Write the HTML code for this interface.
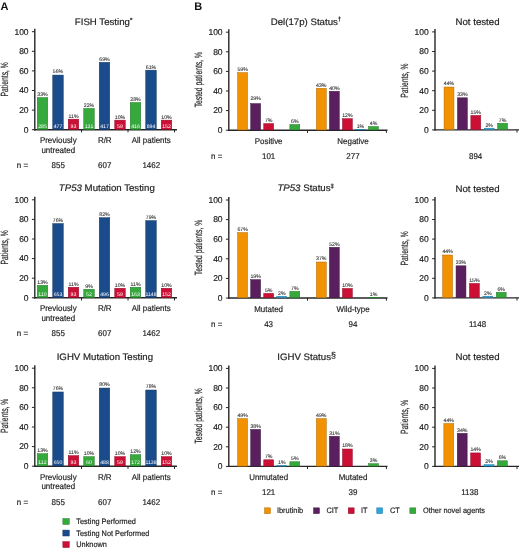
<!DOCTYPE html>
<html><head><meta charset="utf-8"><style>
html,body{margin:0;padding:0;background:#fff;width:520px;height:549px;overflow:hidden}
svg{display:block;will-change:transform}
text{font-family:"Liberation Sans", sans-serif;text-rendering:geometricPrecision}
</style></head><body>
<svg width="520" height="549" viewBox="0 0 520 549">
<rect x="0" y="0" width="520" height="549" fill="#fff"/>
<text x="0.4" y="10" font-size="11" font-weight="bold" fill="#111">A</text>
<text x="194.3" y="10" font-size="11" font-weight="bold" fill="#111">B</text>
<text transform="translate(103.60,24.80) scale(1.03,1)" font-size="9.4" text-anchor="middle" fill="#1e1e1e" stroke="#1e1e1e" stroke-width="0.18" >FISH Testing<tspan font-size="6" dy="-3.3" font-weight="bold">*</tspan></text>
<line x1="34.80" y1="28.70" x2="34.80" y2="130.40" stroke="#262626" stroke-width="1.4"/>
<line x1="34.10" y1="129.70" x2="177.00" y2="129.70" stroke="#262626" stroke-width="1.4"/>
<line x1="31.90" y1="129.70" x2="34.80" y2="129.70" stroke="#262626" stroke-width="1.0"/>
<text x="28.60" y="132.50" font-size="8.5" text-anchor="end" fill="#1e1e1e" stroke="#1e1e1e" stroke-width="0.18" >0</text>
<line x1="31.90" y1="110.10" x2="34.80" y2="110.10" stroke="#262626" stroke-width="1.0"/>
<text x="28.60" y="112.90" font-size="8.5" text-anchor="end" fill="#1e1e1e" stroke="#1e1e1e" stroke-width="0.18" >20</text>
<line x1="31.90" y1="90.50" x2="34.80" y2="90.50" stroke="#262626" stroke-width="1.0"/>
<text x="28.60" y="93.30" font-size="8.5" text-anchor="end" fill="#1e1e1e" stroke="#1e1e1e" stroke-width="0.18" >40</text>
<line x1="31.90" y1="70.90" x2="34.80" y2="70.90" stroke="#262626" stroke-width="1.0"/>
<text x="28.60" y="73.70" font-size="8.5" text-anchor="end" fill="#1e1e1e" stroke="#1e1e1e" stroke-width="0.18" >60</text>
<line x1="31.90" y1="51.30" x2="34.80" y2="51.30" stroke="#262626" stroke-width="1.0"/>
<text x="28.60" y="54.10" font-size="8.5" text-anchor="end" fill="#1e1e1e" stroke="#1e1e1e" stroke-width="0.18" >80</text>
<line x1="31.90" y1="31.70" x2="34.80" y2="31.70" stroke="#262626" stroke-width="1.0"/>
<text x="28.60" y="34.50" font-size="8.5" text-anchor="end" fill="#1e1e1e" stroke="#1e1e1e" stroke-width="0.18" >100</text>
<line x1="81.50" y1="129.70" x2="81.50" y2="132.40" stroke="#262626" stroke-width="1.0"/>
<line x1="128.00" y1="129.70" x2="128.00" y2="132.40" stroke="#262626" stroke-width="1.0"/>
<line x1="174.50" y1="129.70" x2="174.50" y2="132.40" stroke="#262626" stroke-width="1.0"/>
<text transform="translate(7.80,79.30) rotate(-90) scale(0.645,1)" font-size="10.5" text-anchor="middle" fill="#1e1e1e" stroke="#1e1e1e" stroke-width="0.18">Patients, %</text>
<rect x="37.25" y="97.61" width="10.50" height="31.84" fill="#35a93c" stroke="#26792b" stroke-width="0.5"/>
<text x="42.50" y="95.96" font-size="5.2" text-anchor="middle" fill="#3a3a3a" stroke="#3a3a3a" stroke-width="0.12" >33%</text>
<text x="42.50" y="127.50" font-size="5.2" text-anchor="middle" fill="#fff" >285</text>
<rect x="52.75" y="75.07" width="10.50" height="54.38" fill="#1a4b8b" stroke="#123664" stroke-width="0.5"/>
<text x="58.00" y="73.42" font-size="5.2" text-anchor="middle" fill="#3a3a3a" stroke="#3a3a3a" stroke-width="0.12" >56%</text>
<text x="58.00" y="127.50" font-size="5.2" text-anchor="middle" fill="#fff" >477</text>
<rect x="68.25" y="119.17" width="10.50" height="10.28" fill="#cc1035" stroke="#920b26" stroke-width="0.5"/>
<text x="73.50" y="117.52" font-size="5.2" text-anchor="middle" fill="#3a3a3a" stroke="#3a3a3a" stroke-width="0.12" >11%</text>
<text x="73.50" y="127.50" font-size="5.2" text-anchor="middle" fill="#fff" >93</text>
<rect x="83.75" y="108.39" width="10.50" height="21.06" fill="#35a93c" stroke="#26792b" stroke-width="0.5"/>
<text x="89.00" y="106.74" font-size="5.2" text-anchor="middle" fill="#3a3a3a" stroke="#3a3a3a" stroke-width="0.12" >22%</text>
<text x="89.00" y="127.50" font-size="5.2" text-anchor="middle" fill="#fff" >131</text>
<rect x="99.25" y="62.33" width="10.50" height="67.12" fill="#1a4b8b" stroke="#123664" stroke-width="0.5"/>
<text x="104.50" y="60.68" font-size="5.2" text-anchor="middle" fill="#3a3a3a" stroke="#3a3a3a" stroke-width="0.12" >69%</text>
<text x="104.50" y="127.50" font-size="5.2" text-anchor="middle" fill="#fff" >417</text>
<rect x="114.75" y="120.15" width="10.50" height="9.30" fill="#cc1035" stroke="#920b26" stroke-width="0.5"/>
<text x="120.00" y="118.50" font-size="5.2" text-anchor="middle" fill="#3a3a3a" stroke="#3a3a3a" stroke-width="0.12" >10%</text>
<text x="120.00" y="127.50" font-size="5.2" text-anchor="middle" fill="#fff" >59</text>
<rect x="130.25" y="102.51" width="10.50" height="26.94" fill="#35a93c" stroke="#26792b" stroke-width="0.5"/>
<text x="135.50" y="100.86" font-size="5.2" text-anchor="middle" fill="#3a3a3a" stroke="#3a3a3a" stroke-width="0.12" >28%</text>
<text x="135.50" y="127.50" font-size="5.2" text-anchor="middle" fill="#fff" >416</text>
<rect x="145.75" y="70.17" width="10.50" height="59.28" fill="#1a4b8b" stroke="#123664" stroke-width="0.5"/>
<text x="151.00" y="68.52" font-size="5.2" text-anchor="middle" fill="#3a3a3a" stroke="#3a3a3a" stroke-width="0.12" >61%</text>
<text x="151.00" y="127.50" font-size="5.2" text-anchor="middle" fill="#fff" >894</text>
<rect x="161.25" y="120.15" width="10.50" height="9.30" fill="#cc1035" stroke="#920b26" stroke-width="0.5"/>
<text x="166.50" y="118.50" font-size="5.2" text-anchor="middle" fill="#3a3a3a" stroke="#3a3a3a" stroke-width="0.12" >10%</text>
<text x="166.50" y="127.50" font-size="5.2" text-anchor="middle" fill="#fff" >152</text>
<text transform="translate(58.25,143.30) scale(0.95,1)" font-size="8.4" text-anchor="middle" fill="#1e1e1e" stroke="#1e1e1e" stroke-width="0.18" >Previously</text>
<text transform="translate(58.25,152.90) scale(0.95,1)" font-size="8.4" text-anchor="middle" fill="#1e1e1e" stroke="#1e1e1e" stroke-width="0.18" >untreated</text>
<text transform="translate(104.75,143.30) scale(0.95,1)" font-size="8.4" text-anchor="middle" fill="#1e1e1e" stroke="#1e1e1e" stroke-width="0.18" >R/R</text>
<text transform="translate(151.25,143.30) scale(0.95,1)" font-size="8.4" text-anchor="middle" fill="#1e1e1e" stroke="#1e1e1e" stroke-width="0.18" >All patients</text>
<text transform="translate(16.80,168.20) scale(0.95,1)" font-size="8.4" text-anchor="start" fill="#1e1e1e" stroke="#1e1e1e" stroke-width="0.18" >n =</text>
<text transform="translate(58.25,168.20) scale(0.95,1)" font-size="8.4" text-anchor="middle" fill="#1e1e1e" stroke="#1e1e1e" stroke-width="0.18" >855</text>
<text transform="translate(104.75,168.20) scale(0.95,1)" font-size="8.4" text-anchor="middle" fill="#1e1e1e" stroke="#1e1e1e" stroke-width="0.18" >607</text>
<text transform="translate(151.25,168.20) scale(0.95,1)" font-size="8.4" text-anchor="middle" fill="#1e1e1e" stroke="#1e1e1e" stroke-width="0.18" >1462</text>
<text transform="translate(106.80,191.10) scale(1.03,1)" font-size="9.4" text-anchor="middle" fill="#1e1e1e" stroke="#1e1e1e" stroke-width="0.18" ><tspan font-style="italic">TP53</tspan> Mutation Testing</text>
<line x1="34.80" y1="196.80" x2="34.80" y2="298.50" stroke="#262626" stroke-width="1.4"/>
<line x1="34.10" y1="297.80" x2="177.00" y2="297.80" stroke="#262626" stroke-width="1.4"/>
<line x1="31.90" y1="297.80" x2="34.80" y2="297.80" stroke="#262626" stroke-width="1.0"/>
<text x="28.60" y="300.60" font-size="8.5" text-anchor="end" fill="#1e1e1e" stroke="#1e1e1e" stroke-width="0.18" >0</text>
<line x1="31.90" y1="278.20" x2="34.80" y2="278.20" stroke="#262626" stroke-width="1.0"/>
<text x="28.60" y="281.00" font-size="8.5" text-anchor="end" fill="#1e1e1e" stroke="#1e1e1e" stroke-width="0.18" >20</text>
<line x1="31.90" y1="258.60" x2="34.80" y2="258.60" stroke="#262626" stroke-width="1.0"/>
<text x="28.60" y="261.40" font-size="8.5" text-anchor="end" fill="#1e1e1e" stroke="#1e1e1e" stroke-width="0.18" >40</text>
<line x1="31.90" y1="239.00" x2="34.80" y2="239.00" stroke="#262626" stroke-width="1.0"/>
<text x="28.60" y="241.80" font-size="8.5" text-anchor="end" fill="#1e1e1e" stroke="#1e1e1e" stroke-width="0.18" >60</text>
<line x1="31.90" y1="219.40" x2="34.80" y2="219.40" stroke="#262626" stroke-width="1.0"/>
<text x="28.60" y="222.20" font-size="8.5" text-anchor="end" fill="#1e1e1e" stroke="#1e1e1e" stroke-width="0.18" >80</text>
<line x1="31.90" y1="199.80" x2="34.80" y2="199.80" stroke="#262626" stroke-width="1.0"/>
<text x="28.60" y="202.60" font-size="8.5" text-anchor="end" fill="#1e1e1e" stroke="#1e1e1e" stroke-width="0.18" >100</text>
<line x1="81.50" y1="297.80" x2="81.50" y2="300.50" stroke="#262626" stroke-width="1.0"/>
<line x1="128.00" y1="297.80" x2="128.00" y2="300.50" stroke="#262626" stroke-width="1.0"/>
<line x1="174.50" y1="297.80" x2="174.50" y2="300.50" stroke="#262626" stroke-width="1.0"/>
<text transform="translate(7.80,247.40) rotate(-90) scale(0.645,1)" font-size="10.5" text-anchor="middle" fill="#1e1e1e" stroke="#1e1e1e" stroke-width="0.18">Patients, %</text>
<rect x="37.25" y="285.31" width="10.50" height="12.24" fill="#35a93c" stroke="#26792b" stroke-width="0.5"/>
<text x="42.50" y="283.66" font-size="5.2" text-anchor="middle" fill="#3a3a3a" stroke="#3a3a3a" stroke-width="0.12" >13%</text>
<text x="42.50" y="295.60" font-size="5.2" text-anchor="middle" fill="#fff" >110</text>
<rect x="52.75" y="223.57" width="10.50" height="73.98" fill="#1a4b8b" stroke="#123664" stroke-width="0.5"/>
<text x="58.00" y="221.92" font-size="5.2" text-anchor="middle" fill="#3a3a3a" stroke="#3a3a3a" stroke-width="0.12" >76%</text>
<text x="58.00" y="295.60" font-size="5.2" text-anchor="middle" fill="#fff" >653</text>
<rect x="68.25" y="287.27" width="10.50" height="10.28" fill="#cc1035" stroke="#920b26" stroke-width="0.5"/>
<text x="73.50" y="285.62" font-size="5.2" text-anchor="middle" fill="#3a3a3a" stroke="#3a3a3a" stroke-width="0.12" >11%</text>
<text x="73.50" y="295.60" font-size="5.2" text-anchor="middle" fill="#fff" >93</text>
<rect x="83.75" y="289.23" width="10.50" height="8.32" fill="#35a93c" stroke="#26792b" stroke-width="0.5"/>
<text x="89.00" y="287.58" font-size="5.2" text-anchor="middle" fill="#3a3a3a" stroke="#3a3a3a" stroke-width="0.12" >9%</text>
<text x="89.00" y="295.60" font-size="5.2" text-anchor="middle" fill="#fff" >52</text>
<rect x="99.25" y="217.69" width="10.50" height="79.86" fill="#1a4b8b" stroke="#123664" stroke-width="0.5"/>
<text x="104.50" y="216.04" font-size="5.2" text-anchor="middle" fill="#3a3a3a" stroke="#3a3a3a" stroke-width="0.12" >82%</text>
<text x="104.50" y="295.60" font-size="5.2" text-anchor="middle" fill="#fff" >496</text>
<rect x="114.75" y="288.25" width="10.50" height="9.30" fill="#cc1035" stroke="#920b26" stroke-width="0.5"/>
<text x="120.00" y="286.60" font-size="5.2" text-anchor="middle" fill="#3a3a3a" stroke="#3a3a3a" stroke-width="0.12" >10%</text>
<text x="120.00" y="295.60" font-size="5.2" text-anchor="middle" fill="#fff" >59</text>
<rect x="130.25" y="287.27" width="10.50" height="10.28" fill="#35a93c" stroke="#26792b" stroke-width="0.5"/>
<text x="135.50" y="285.62" font-size="5.2" text-anchor="middle" fill="#3a3a3a" stroke="#3a3a3a" stroke-width="0.12" >11%</text>
<text x="135.50" y="295.60" font-size="5.2" text-anchor="middle" fill="#fff" >163</text>
<rect x="145.75" y="220.63" width="10.50" height="76.92" fill="#1a4b8b" stroke="#123664" stroke-width="0.5"/>
<text x="151.00" y="218.98" font-size="5.2" text-anchor="middle" fill="#3a3a3a" stroke="#3a3a3a" stroke-width="0.12" >79%</text>
<text x="151.00" y="295.60" font-size="5.2" text-anchor="middle" fill="#fff" >1148</text>
<rect x="161.25" y="288.25" width="10.50" height="9.30" fill="#cc1035" stroke="#920b26" stroke-width="0.5"/>
<text x="166.50" y="286.60" font-size="5.2" text-anchor="middle" fill="#3a3a3a" stroke="#3a3a3a" stroke-width="0.12" >10%</text>
<text x="166.50" y="295.60" font-size="5.2" text-anchor="middle" fill="#fff" >152</text>
<text transform="translate(58.25,311.40) scale(0.95,1)" font-size="8.4" text-anchor="middle" fill="#1e1e1e" stroke="#1e1e1e" stroke-width="0.18" >Previously</text>
<text transform="translate(58.25,321.00) scale(0.95,1)" font-size="8.4" text-anchor="middle" fill="#1e1e1e" stroke="#1e1e1e" stroke-width="0.18" >untreated</text>
<text transform="translate(104.75,311.40) scale(0.95,1)" font-size="8.4" text-anchor="middle" fill="#1e1e1e" stroke="#1e1e1e" stroke-width="0.18" >R/R</text>
<text transform="translate(151.25,311.40) scale(0.95,1)" font-size="8.4" text-anchor="middle" fill="#1e1e1e" stroke="#1e1e1e" stroke-width="0.18" >All patients</text>
<text transform="translate(16.80,336.30) scale(0.95,1)" font-size="8.4" text-anchor="start" fill="#1e1e1e" stroke="#1e1e1e" stroke-width="0.18" >n =</text>
<text transform="translate(58.25,336.30) scale(0.95,1)" font-size="8.4" text-anchor="middle" fill="#1e1e1e" stroke="#1e1e1e" stroke-width="0.18" >855</text>
<text transform="translate(104.75,336.30) scale(0.95,1)" font-size="8.4" text-anchor="middle" fill="#1e1e1e" stroke="#1e1e1e" stroke-width="0.18" >607</text>
<text transform="translate(151.25,336.30) scale(0.95,1)" font-size="8.4" text-anchor="middle" fill="#1e1e1e" stroke="#1e1e1e" stroke-width="0.18" >1462</text>
<text transform="translate(104.90,360.30) scale(1.03,1)" font-size="9.4" text-anchor="middle" fill="#1e1e1e" stroke="#1e1e1e" stroke-width="0.18" >IGHV Mutation Testing</text>
<line x1="34.80" y1="365.20" x2="34.80" y2="466.90" stroke="#262626" stroke-width="1.4"/>
<line x1="34.10" y1="466.20" x2="177.00" y2="466.20" stroke="#262626" stroke-width="1.4"/>
<line x1="31.90" y1="466.20" x2="34.80" y2="466.20" stroke="#262626" stroke-width="1.0"/>
<text x="28.60" y="469.00" font-size="8.5" text-anchor="end" fill="#1e1e1e" stroke="#1e1e1e" stroke-width="0.18" >0</text>
<line x1="31.90" y1="446.60" x2="34.80" y2="446.60" stroke="#262626" stroke-width="1.0"/>
<text x="28.60" y="449.40" font-size="8.5" text-anchor="end" fill="#1e1e1e" stroke="#1e1e1e" stroke-width="0.18" >20</text>
<line x1="31.90" y1="427.00" x2="34.80" y2="427.00" stroke="#262626" stroke-width="1.0"/>
<text x="28.60" y="429.80" font-size="8.5" text-anchor="end" fill="#1e1e1e" stroke="#1e1e1e" stroke-width="0.18" >40</text>
<line x1="31.90" y1="407.40" x2="34.80" y2="407.40" stroke="#262626" stroke-width="1.0"/>
<text x="28.60" y="410.20" font-size="8.5" text-anchor="end" fill="#1e1e1e" stroke="#1e1e1e" stroke-width="0.18" >60</text>
<line x1="31.90" y1="387.80" x2="34.80" y2="387.80" stroke="#262626" stroke-width="1.0"/>
<text x="28.60" y="390.60" font-size="8.5" text-anchor="end" fill="#1e1e1e" stroke="#1e1e1e" stroke-width="0.18" >80</text>
<line x1="31.90" y1="368.20" x2="34.80" y2="368.20" stroke="#262626" stroke-width="1.0"/>
<text x="28.60" y="371.00" font-size="8.5" text-anchor="end" fill="#1e1e1e" stroke="#1e1e1e" stroke-width="0.18" >100</text>
<line x1="81.50" y1="466.20" x2="81.50" y2="468.90" stroke="#262626" stroke-width="1.0"/>
<line x1="128.00" y1="466.20" x2="128.00" y2="468.90" stroke="#262626" stroke-width="1.0"/>
<line x1="174.50" y1="466.20" x2="174.50" y2="468.90" stroke="#262626" stroke-width="1.0"/>
<text transform="translate(7.80,415.80) rotate(-90) scale(0.645,1)" font-size="10.5" text-anchor="middle" fill="#1e1e1e" stroke="#1e1e1e" stroke-width="0.18">Patients, %</text>
<rect x="37.25" y="453.71" width="10.50" height="12.24" fill="#35a93c" stroke="#26792b" stroke-width="0.5"/>
<text x="42.50" y="452.06" font-size="5.2" text-anchor="middle" fill="#3a3a3a" stroke="#3a3a3a" stroke-width="0.12" >13%</text>
<text x="42.50" y="464.00" font-size="5.2" text-anchor="middle" fill="#fff" >112</text>
<rect x="52.75" y="391.97" width="10.50" height="73.98" fill="#1a4b8b" stroke="#123664" stroke-width="0.5"/>
<text x="58.00" y="390.32" font-size="5.2" text-anchor="middle" fill="#3a3a3a" stroke="#3a3a3a" stroke-width="0.12" >76%</text>
<text x="58.00" y="464.00" font-size="5.2" text-anchor="middle" fill="#fff" >650</text>
<rect x="68.25" y="455.67" width="10.50" height="10.28" fill="#cc1035" stroke="#920b26" stroke-width="0.5"/>
<text x="73.50" y="454.02" font-size="5.2" text-anchor="middle" fill="#3a3a3a" stroke="#3a3a3a" stroke-width="0.12" >11%</text>
<text x="73.50" y="464.00" font-size="5.2" text-anchor="middle" fill="#fff" >93</text>
<rect x="83.75" y="456.65" width="10.50" height="9.30" fill="#35a93c" stroke="#26792b" stroke-width="0.5"/>
<text x="89.00" y="455.00" font-size="5.2" text-anchor="middle" fill="#3a3a3a" stroke="#3a3a3a" stroke-width="0.12" >10%</text>
<text x="89.00" y="464.00" font-size="5.2" text-anchor="middle" fill="#fff" >60</text>
<rect x="99.25" y="388.05" width="10.50" height="77.90" fill="#1a4b8b" stroke="#123664" stroke-width="0.5"/>
<text x="104.50" y="386.40" font-size="5.2" text-anchor="middle" fill="#3a3a3a" stroke="#3a3a3a" stroke-width="0.12" >80%</text>
<text x="104.50" y="464.00" font-size="5.2" text-anchor="middle" fill="#fff" >488</text>
<rect x="114.75" y="456.65" width="10.50" height="9.30" fill="#cc1035" stroke="#920b26" stroke-width="0.5"/>
<text x="120.00" y="455.00" font-size="5.2" text-anchor="middle" fill="#3a3a3a" stroke="#3a3a3a" stroke-width="0.12" >10%</text>
<text x="120.00" y="464.00" font-size="5.2" text-anchor="middle" fill="#fff" >59</text>
<rect x="130.25" y="454.69" width="10.50" height="11.26" fill="#35a93c" stroke="#26792b" stroke-width="0.5"/>
<text x="135.50" y="453.04" font-size="5.2" text-anchor="middle" fill="#3a3a3a" stroke="#3a3a3a" stroke-width="0.12" >12%</text>
<text x="135.50" y="464.00" font-size="5.2" text-anchor="middle" fill="#fff" >172</text>
<rect x="145.75" y="390.01" width="10.50" height="75.94" fill="#1a4b8b" stroke="#123664" stroke-width="0.5"/>
<text x="151.00" y="388.36" font-size="5.2" text-anchor="middle" fill="#3a3a3a" stroke="#3a3a3a" stroke-width="0.12" >78%</text>
<text x="151.00" y="464.00" font-size="5.2" text-anchor="middle" fill="#fff" >1138</text>
<rect x="161.25" y="456.65" width="10.50" height="9.30" fill="#cc1035" stroke="#920b26" stroke-width="0.5"/>
<text x="166.50" y="455.00" font-size="5.2" text-anchor="middle" fill="#3a3a3a" stroke="#3a3a3a" stroke-width="0.12" >10%</text>
<text x="166.50" y="464.00" font-size="5.2" text-anchor="middle" fill="#fff" >152</text>
<text transform="translate(58.25,479.80) scale(0.95,1)" font-size="8.4" text-anchor="middle" fill="#1e1e1e" stroke="#1e1e1e" stroke-width="0.18" >Previously</text>
<text transform="translate(58.25,489.40) scale(0.95,1)" font-size="8.4" text-anchor="middle" fill="#1e1e1e" stroke="#1e1e1e" stroke-width="0.18" >untreated</text>
<text transform="translate(104.75,479.80) scale(0.95,1)" font-size="8.4" text-anchor="middle" fill="#1e1e1e" stroke="#1e1e1e" stroke-width="0.18" >R/R</text>
<text transform="translate(151.25,479.80) scale(0.95,1)" font-size="8.4" text-anchor="middle" fill="#1e1e1e" stroke="#1e1e1e" stroke-width="0.18" >All patients</text>
<text transform="translate(16.80,504.70) scale(0.95,1)" font-size="8.4" text-anchor="start" fill="#1e1e1e" stroke="#1e1e1e" stroke-width="0.18" >n =</text>
<text transform="translate(58.25,504.70) scale(0.95,1)" font-size="8.4" text-anchor="middle" fill="#1e1e1e" stroke="#1e1e1e" stroke-width="0.18" >855</text>
<text transform="translate(104.75,504.70) scale(0.95,1)" font-size="8.4" text-anchor="middle" fill="#1e1e1e" stroke="#1e1e1e" stroke-width="0.18" >607</text>
<text transform="translate(151.25,504.70) scale(0.95,1)" font-size="8.4" text-anchor="middle" fill="#1e1e1e" stroke="#1e1e1e" stroke-width="0.18" >1462</text>
<rect x="62.85" y="518.55" width="6.40" height="5.90" fill="#35a93c" stroke="#26792b" stroke-width="0.5"/>
<text transform="translate(76.30,524.10) scale(0.93,1)" font-size="7.9" text-anchor="start" fill="#1e1e1e" stroke="#1e1e1e" stroke-width="0.18" >Testing Performed</text>
<rect x="62.85" y="530.10" width="6.40" height="5.90" fill="#1a4b8b" stroke="#123664" stroke-width="0.5"/>
<text transform="translate(76.30,535.65) scale(0.93,1)" font-size="7.9" text-anchor="start" fill="#1e1e1e" stroke="#1e1e1e" stroke-width="0.18" >Testing Not Performed</text>
<rect x="62.85" y="541.65" width="6.40" height="5.90" fill="#cc1035" stroke="#920b26" stroke-width="0.5"/>
<text transform="translate(76.30,547.20) scale(0.93,1)" font-size="7.9" text-anchor="start" fill="#1e1e1e" stroke="#1e1e1e" stroke-width="0.18" >Unknown</text>
<text transform="translate(306.00,24.70) scale(1.03,1)" font-size="9.4" text-anchor="middle" fill="#1e1e1e" stroke="#1e1e1e" stroke-width="0.18" >Del(17p) Status<tspan font-size="6" dy="-3.3" font-weight="bold">†</tspan></text>
<line x1="228.80" y1="29.20" x2="228.80" y2="130.90" stroke="#262626" stroke-width="1.4"/>
<line x1="228.10" y1="130.20" x2="387.50" y2="130.20" stroke="#262626" stroke-width="1.4"/>
<line x1="225.90" y1="130.20" x2="228.80" y2="130.20" stroke="#262626" stroke-width="1.0"/>
<text x="222.60" y="133.00" font-size="8.5" text-anchor="end" fill="#1e1e1e" stroke="#1e1e1e" stroke-width="0.18" >0</text>
<line x1="225.90" y1="110.60" x2="228.80" y2="110.60" stroke="#262626" stroke-width="1.0"/>
<text x="222.60" y="113.40" font-size="8.5" text-anchor="end" fill="#1e1e1e" stroke="#1e1e1e" stroke-width="0.18" >20</text>
<line x1="225.90" y1="91.00" x2="228.80" y2="91.00" stroke="#262626" stroke-width="1.0"/>
<text x="222.60" y="93.80" font-size="8.5" text-anchor="end" fill="#1e1e1e" stroke="#1e1e1e" stroke-width="0.18" >40</text>
<line x1="225.90" y1="71.40" x2="228.80" y2="71.40" stroke="#262626" stroke-width="1.0"/>
<text x="222.60" y="74.20" font-size="8.5" text-anchor="end" fill="#1e1e1e" stroke="#1e1e1e" stroke-width="0.18" >60</text>
<line x1="225.90" y1="51.80" x2="228.80" y2="51.80" stroke="#262626" stroke-width="1.0"/>
<text x="222.60" y="54.60" font-size="8.5" text-anchor="end" fill="#1e1e1e" stroke="#1e1e1e" stroke-width="0.18" >80</text>
<line x1="225.90" y1="32.20" x2="228.80" y2="32.20" stroke="#262626" stroke-width="1.0"/>
<text x="222.60" y="35.00" font-size="8.5" text-anchor="end" fill="#1e1e1e" stroke="#1e1e1e" stroke-width="0.18" >100</text>
<line x1="307.50" y1="130.20" x2="307.50" y2="132.90" stroke="#262626" stroke-width="1.0"/>
<line x1="386.40" y1="130.20" x2="386.40" y2="132.90" stroke="#262626" stroke-width="1.0"/>
<text transform="translate(201.70,79.70) rotate(-90) scale(0.645,1)" font-size="10.5" text-anchor="middle" fill="#1e1e1e" stroke="#1e1e1e" stroke-width="0.18">Tested patients, %</text>
<rect x="237.65" y="72.63" width="9.90" height="57.32" fill="#f39200" stroke="#ae6900" stroke-width="0.5"/>
<text x="242.60" y="70.98" font-size="5.2" text-anchor="middle" fill="#3a3a3a" stroke="#3a3a3a" stroke-width="0.12" >59%</text>
<rect x="250.70" y="103.60" width="9.90" height="26.35" fill="#5a1f5e" stroke="#401643" stroke-width="0.5"/>
<text x="255.65" y="100.38" font-size="5.2" text-anchor="middle" fill="#3a3a3a" stroke="#3a3a3a" stroke-width="0.12" >29%</text>
<rect x="263.75" y="123.59" width="9.90" height="6.36" fill="#cc1035" stroke="#920b26" stroke-width="0.5"/>
<text x="268.70" y="121.94" font-size="5.2" text-anchor="middle" fill="#3a3a3a" stroke="#3a3a3a" stroke-width="0.12" >7%</text>
<rect x="289.85" y="124.57" width="9.90" height="5.38" fill="#35a93c" stroke="#26792b" stroke-width="0.5"/>
<text x="294.80" y="122.92" font-size="5.2" text-anchor="middle" fill="#3a3a3a" stroke="#3a3a3a" stroke-width="0.12" >6%</text>
<rect x="316.35" y="88.31" width="9.90" height="41.64" fill="#f39200" stroke="#ae6900" stroke-width="0.5"/>
<text x="321.30" y="86.66" font-size="5.2" text-anchor="middle" fill="#3a3a3a" stroke="#3a3a3a" stroke-width="0.12" >43%</text>
<rect x="329.40" y="91.25" width="9.90" height="38.70" fill="#5a1f5e" stroke="#401643" stroke-width="0.5"/>
<text x="334.35" y="89.60" font-size="5.2" text-anchor="middle" fill="#3a3a3a" stroke="#3a3a3a" stroke-width="0.12" >40%</text>
<rect x="342.45" y="118.69" width="9.90" height="11.26" fill="#cc1035" stroke="#920b26" stroke-width="0.5"/>
<text x="347.40" y="117.04" font-size="5.2" text-anchor="middle" fill="#3a3a3a" stroke="#3a3a3a" stroke-width="0.12" >12%</text>
<rect x="355.50" y="129.47" width="9.90" height="0.48" fill="#2fa6dc" stroke="#21779e" stroke-width="0.5"/>
<text x="360.45" y="127.82" font-size="5.2" text-anchor="middle" fill="#3a3a3a" stroke="#3a3a3a" stroke-width="0.12" >1%</text>
<rect x="368.55" y="126.53" width="9.90" height="3.42" fill="#35a93c" stroke="#26792b" stroke-width="0.5"/>
<text x="373.50" y="124.88" font-size="5.2" text-anchor="middle" fill="#3a3a3a" stroke="#3a3a3a" stroke-width="0.12" >4%</text>
<text transform="translate(268.60,144.10) scale(0.95,1)" font-size="8.4" text-anchor="middle" fill="#1e1e1e" stroke="#1e1e1e" stroke-width="0.18" >Positive</text>
<text transform="translate(268.60,158.70) scale(0.95,1)" font-size="8.4" text-anchor="middle" fill="#1e1e1e" stroke="#1e1e1e" stroke-width="0.18" >101</text>
<text transform="translate(353.00,144.10) scale(0.95,1)" font-size="8.4" text-anchor="middle" fill="#1e1e1e" stroke="#1e1e1e" stroke-width="0.18" >Negative</text>
<text transform="translate(353.00,158.70) scale(0.95,1)" font-size="8.4" text-anchor="middle" fill="#1e1e1e" stroke="#1e1e1e" stroke-width="0.18" >277</text>
<text transform="translate(211.00,158.70) scale(0.95,1)" font-size="8.4" text-anchor="start" fill="#1e1e1e" stroke="#1e1e1e" stroke-width="0.18" >n =</text>
<text transform="translate(477.50,24.90) scale(1.03,1)" font-size="9.4" text-anchor="middle" fill="#1e1e1e" stroke="#1e1e1e" stroke-width="0.18" >Not tested</text>
<line x1="435.00" y1="28.90" x2="435.00" y2="130.60" stroke="#262626" stroke-width="1.4"/>
<line x1="434.30" y1="129.90" x2="519.00" y2="129.90" stroke="#262626" stroke-width="1.4"/>
<line x1="432.10" y1="129.90" x2="435.00" y2="129.90" stroke="#262626" stroke-width="1.0"/>
<text x="428.80" y="132.70" font-size="8.5" text-anchor="end" fill="#1e1e1e" stroke="#1e1e1e" stroke-width="0.18" >0</text>
<line x1="432.10" y1="110.30" x2="435.00" y2="110.30" stroke="#262626" stroke-width="1.0"/>
<text x="428.80" y="113.10" font-size="8.5" text-anchor="end" fill="#1e1e1e" stroke="#1e1e1e" stroke-width="0.18" >20</text>
<line x1="432.10" y1="90.70" x2="435.00" y2="90.70" stroke="#262626" stroke-width="1.0"/>
<text x="428.80" y="93.50" font-size="8.5" text-anchor="end" fill="#1e1e1e" stroke="#1e1e1e" stroke-width="0.18" >40</text>
<line x1="432.10" y1="71.10" x2="435.00" y2="71.10" stroke="#262626" stroke-width="1.0"/>
<text x="428.80" y="73.90" font-size="8.5" text-anchor="end" fill="#1e1e1e" stroke="#1e1e1e" stroke-width="0.18" >60</text>
<line x1="432.10" y1="51.50" x2="435.00" y2="51.50" stroke="#262626" stroke-width="1.0"/>
<text x="428.80" y="54.30" font-size="8.5" text-anchor="end" fill="#1e1e1e" stroke="#1e1e1e" stroke-width="0.18" >80</text>
<line x1="432.10" y1="31.90" x2="435.00" y2="31.90" stroke="#262626" stroke-width="1.0"/>
<text x="428.80" y="34.70" font-size="8.5" text-anchor="end" fill="#1e1e1e" stroke="#1e1e1e" stroke-width="0.18" >100</text>
<line x1="517.00" y1="129.90" x2="517.00" y2="132.60" stroke="#262626" stroke-width="1.0"/>
<text transform="translate(407.80,80.60) rotate(-90) scale(0.645,1)" font-size="10.5" text-anchor="middle" fill="#1e1e1e" stroke="#1e1e1e" stroke-width="0.18">Patients, %</text>
<rect x="444.05" y="87.03" width="9.90" height="42.62" fill="#f39200" stroke="#ae6900" stroke-width="0.5"/>
<text x="449.00" y="85.38" font-size="5.2" text-anchor="middle" fill="#3a3a3a" stroke="#3a3a3a" stroke-width="0.12" >44%</text>
<rect x="457.45" y="97.81" width="9.90" height="31.84" fill="#5a1f5e" stroke="#401643" stroke-width="0.5"/>
<text x="462.40" y="96.16" font-size="5.2" text-anchor="middle" fill="#3a3a3a" stroke="#3a3a3a" stroke-width="0.12" >33%</text>
<rect x="470.85" y="115.45" width="9.90" height="14.20" fill="#cc1035" stroke="#920b26" stroke-width="0.5"/>
<text x="475.80" y="113.80" font-size="5.2" text-anchor="middle" fill="#3a3a3a" stroke="#3a3a3a" stroke-width="0.12" >15%</text>
<rect x="484.25" y="128.19" width="9.90" height="1.46" fill="#2fa6dc" stroke="#21779e" stroke-width="0.5"/>
<text x="489.20" y="126.54" font-size="5.2" text-anchor="middle" fill="#3a3a3a" stroke="#3a3a3a" stroke-width="0.12" >2%</text>
<rect x="497.65" y="123.29" width="9.90" height="6.36" fill="#35a93c" stroke="#26792b" stroke-width="0.5"/>
<text x="502.60" y="121.64" font-size="5.2" text-anchor="middle" fill="#3a3a3a" stroke="#3a3a3a" stroke-width="0.12" >7%</text>
<text transform="translate(475.60,158.70) scale(0.95,1)" font-size="8.4" text-anchor="middle" fill="#1e1e1e" stroke="#1e1e1e" stroke-width="0.18" >894</text>
<text transform="translate(305.70,191.40) scale(1.03,1)" font-size="9.4" text-anchor="middle" fill="#1e1e1e" stroke="#1e1e1e" stroke-width="0.18" ><tspan font-style="italic">TP53</tspan> Status<tspan font-size="6" dy="-3.3" font-weight="bold">‡</tspan></text>
<line x1="228.80" y1="197.00" x2="228.80" y2="298.70" stroke="#262626" stroke-width="1.4"/>
<line x1="228.10" y1="298.00" x2="387.50" y2="298.00" stroke="#262626" stroke-width="1.4"/>
<line x1="225.90" y1="298.00" x2="228.80" y2="298.00" stroke="#262626" stroke-width="1.0"/>
<text x="222.60" y="300.80" font-size="8.5" text-anchor="end" fill="#1e1e1e" stroke="#1e1e1e" stroke-width="0.18" >0</text>
<line x1="225.90" y1="278.40" x2="228.80" y2="278.40" stroke="#262626" stroke-width="1.0"/>
<text x="222.60" y="281.20" font-size="8.5" text-anchor="end" fill="#1e1e1e" stroke="#1e1e1e" stroke-width="0.18" >20</text>
<line x1="225.90" y1="258.80" x2="228.80" y2="258.80" stroke="#262626" stroke-width="1.0"/>
<text x="222.60" y="261.60" font-size="8.5" text-anchor="end" fill="#1e1e1e" stroke="#1e1e1e" stroke-width="0.18" >40</text>
<line x1="225.90" y1="239.20" x2="228.80" y2="239.20" stroke="#262626" stroke-width="1.0"/>
<text x="222.60" y="242.00" font-size="8.5" text-anchor="end" fill="#1e1e1e" stroke="#1e1e1e" stroke-width="0.18" >60</text>
<line x1="225.90" y1="219.60" x2="228.80" y2="219.60" stroke="#262626" stroke-width="1.0"/>
<text x="222.60" y="222.40" font-size="8.5" text-anchor="end" fill="#1e1e1e" stroke="#1e1e1e" stroke-width="0.18" >80</text>
<line x1="225.90" y1="200.00" x2="228.80" y2="200.00" stroke="#262626" stroke-width="1.0"/>
<text x="222.60" y="202.80" font-size="8.5" text-anchor="end" fill="#1e1e1e" stroke="#1e1e1e" stroke-width="0.18" >100</text>
<line x1="307.50" y1="298.00" x2="307.50" y2="300.70" stroke="#262626" stroke-width="1.0"/>
<line x1="386.40" y1="298.00" x2="386.40" y2="300.70" stroke="#262626" stroke-width="1.0"/>
<text transform="translate(201.70,247.50) rotate(-90) scale(0.645,1)" font-size="10.5" text-anchor="middle" fill="#1e1e1e" stroke="#1e1e1e" stroke-width="0.18">Tested patients, %</text>
<rect x="237.65" y="232.59" width="9.90" height="65.16" fill="#f39200" stroke="#ae6900" stroke-width="0.5"/>
<text x="242.60" y="230.94" font-size="5.2" text-anchor="middle" fill="#3a3a3a" stroke="#3a3a3a" stroke-width="0.12" >67%</text>
<rect x="250.70" y="279.63" width="9.90" height="18.12" fill="#5a1f5e" stroke="#401643" stroke-width="0.5"/>
<text x="255.65" y="277.98" font-size="5.2" text-anchor="middle" fill="#3a3a3a" stroke="#3a3a3a" stroke-width="0.12" >19%</text>
<rect x="263.75" y="293.35" width="9.90" height="4.40" fill="#cc1035" stroke="#920b26" stroke-width="0.5"/>
<text x="268.70" y="291.70" font-size="5.2" text-anchor="middle" fill="#3a3a3a" stroke="#3a3a3a" stroke-width="0.12" >5%</text>
<rect x="276.80" y="296.29" width="9.90" height="1.46" fill="#2fa6dc" stroke="#21779e" stroke-width="0.5"/>
<text x="281.75" y="294.64" font-size="5.2" text-anchor="middle" fill="#3a3a3a" stroke="#3a3a3a" stroke-width="0.12" >2%</text>
<rect x="289.85" y="291.39" width="9.90" height="6.36" fill="#35a93c" stroke="#26792b" stroke-width="0.5"/>
<text x="294.80" y="289.74" font-size="5.2" text-anchor="middle" fill="#3a3a3a" stroke="#3a3a3a" stroke-width="0.12" >7%</text>
<rect x="316.35" y="261.99" width="9.90" height="35.76" fill="#f39200" stroke="#ae6900" stroke-width="0.5"/>
<text x="321.30" y="260.34" font-size="5.2" text-anchor="middle" fill="#3a3a3a" stroke="#3a3a3a" stroke-width="0.12" >37%</text>
<rect x="329.40" y="247.29" width="9.90" height="50.46" fill="#5a1f5e" stroke="#401643" stroke-width="0.5"/>
<text x="334.35" y="245.64" font-size="5.2" text-anchor="middle" fill="#3a3a3a" stroke="#3a3a3a" stroke-width="0.12" >52%</text>
<rect x="342.45" y="288.45" width="9.90" height="9.30" fill="#cc1035" stroke="#920b26" stroke-width="0.5"/>
<text x="347.40" y="286.80" font-size="5.2" text-anchor="middle" fill="#3a3a3a" stroke="#3a3a3a" stroke-width="0.12" >10%</text>
<rect x="368.55" y="297.27" width="9.90" height="0.48" fill="#35a93c" stroke="#26792b" stroke-width="0.5"/>
<text x="373.50" y="295.62" font-size="5.2" text-anchor="middle" fill="#3a3a3a" stroke="#3a3a3a" stroke-width="0.12" >1%</text>
<text transform="translate(268.60,311.90) scale(0.95,1)" font-size="8.4" text-anchor="middle" fill="#1e1e1e" stroke="#1e1e1e" stroke-width="0.18" >Mutated</text>
<text transform="translate(268.60,326.50) scale(0.95,1)" font-size="8.4" text-anchor="middle" fill="#1e1e1e" stroke="#1e1e1e" stroke-width="0.18" >43</text>
<text transform="translate(353.00,311.90) scale(0.95,1)" font-size="8.4" text-anchor="middle" fill="#1e1e1e" stroke="#1e1e1e" stroke-width="0.18" >Wild-type</text>
<text transform="translate(353.00,326.50) scale(0.95,1)" font-size="8.4" text-anchor="middle" fill="#1e1e1e" stroke="#1e1e1e" stroke-width="0.18" >94</text>
<text transform="translate(211.00,326.50) scale(0.95,1)" font-size="8.4" text-anchor="start" fill="#1e1e1e" stroke="#1e1e1e" stroke-width="0.18" >n =</text>
<text transform="translate(477.50,191.60) scale(1.03,1)" font-size="9.4" text-anchor="middle" fill="#1e1e1e" stroke="#1e1e1e" stroke-width="0.18" >Not tested</text>
<line x1="435.00" y1="196.90" x2="435.00" y2="298.60" stroke="#262626" stroke-width="1.4"/>
<line x1="434.30" y1="297.90" x2="519.00" y2="297.90" stroke="#262626" stroke-width="1.4"/>
<line x1="432.10" y1="297.90" x2="435.00" y2="297.90" stroke="#262626" stroke-width="1.0"/>
<text x="428.80" y="300.70" font-size="8.5" text-anchor="end" fill="#1e1e1e" stroke="#1e1e1e" stroke-width="0.18" >0</text>
<line x1="432.10" y1="278.30" x2="435.00" y2="278.30" stroke="#262626" stroke-width="1.0"/>
<text x="428.80" y="281.10" font-size="8.5" text-anchor="end" fill="#1e1e1e" stroke="#1e1e1e" stroke-width="0.18" >20</text>
<line x1="432.10" y1="258.70" x2="435.00" y2="258.70" stroke="#262626" stroke-width="1.0"/>
<text x="428.80" y="261.50" font-size="8.5" text-anchor="end" fill="#1e1e1e" stroke="#1e1e1e" stroke-width="0.18" >40</text>
<line x1="432.10" y1="239.10" x2="435.00" y2="239.10" stroke="#262626" stroke-width="1.0"/>
<text x="428.80" y="241.90" font-size="8.5" text-anchor="end" fill="#1e1e1e" stroke="#1e1e1e" stroke-width="0.18" >60</text>
<line x1="432.10" y1="219.50" x2="435.00" y2="219.50" stroke="#262626" stroke-width="1.0"/>
<text x="428.80" y="222.30" font-size="8.5" text-anchor="end" fill="#1e1e1e" stroke="#1e1e1e" stroke-width="0.18" >80</text>
<line x1="432.10" y1="199.90" x2="435.00" y2="199.90" stroke="#262626" stroke-width="1.0"/>
<text x="428.80" y="202.70" font-size="8.5" text-anchor="end" fill="#1e1e1e" stroke="#1e1e1e" stroke-width="0.18" >100</text>
<line x1="517.00" y1="297.90" x2="517.00" y2="300.60" stroke="#262626" stroke-width="1.0"/>
<text transform="translate(407.80,248.40) rotate(-90) scale(0.645,1)" font-size="10.5" text-anchor="middle" fill="#1e1e1e" stroke="#1e1e1e" stroke-width="0.18">Patients, %</text>
<rect x="442.65" y="255.03" width="9.90" height="42.62" fill="#f39200" stroke="#ae6900" stroke-width="0.5"/>
<text x="447.60" y="253.38" font-size="5.2" text-anchor="middle" fill="#3a3a3a" stroke="#3a3a3a" stroke-width="0.12" >44%</text>
<rect x="456.05" y="265.81" width="9.90" height="31.84" fill="#5a1f5e" stroke="#401643" stroke-width="0.5"/>
<text x="461.00" y="264.16" font-size="5.2" text-anchor="middle" fill="#3a3a3a" stroke="#3a3a3a" stroke-width="0.12" >33%</text>
<rect x="469.45" y="283.45" width="9.90" height="14.20" fill="#cc1035" stroke="#920b26" stroke-width="0.5"/>
<text x="474.40" y="281.80" font-size="5.2" text-anchor="middle" fill="#3a3a3a" stroke="#3a3a3a" stroke-width="0.12" >15%</text>
<rect x="482.85" y="296.19" width="9.90" height="1.46" fill="#2fa6dc" stroke="#21779e" stroke-width="0.5"/>
<text x="487.80" y="294.54" font-size="5.2" text-anchor="middle" fill="#3a3a3a" stroke="#3a3a3a" stroke-width="0.12" >2%</text>
<rect x="496.25" y="292.27" width="9.90" height="5.38" fill="#35a93c" stroke="#26792b" stroke-width="0.5"/>
<text x="501.20" y="290.62" font-size="5.2" text-anchor="middle" fill="#3a3a3a" stroke="#3a3a3a" stroke-width="0.12" >6%</text>
<text transform="translate(477.50,326.50) scale(0.95,1)" font-size="8.4" text-anchor="middle" fill="#1e1e1e" stroke="#1e1e1e" stroke-width="0.18" >1148</text>
<text transform="translate(306.60,359.80) scale(1.03,1)" font-size="9.4" text-anchor="middle" fill="#1e1e1e" stroke="#1e1e1e" stroke-width="0.18" >IGHV Status<tspan font-size="8.6" dy="-1.6">§</tspan></text>
<line x1="228.80" y1="365.40" x2="228.80" y2="467.10" stroke="#262626" stroke-width="1.4"/>
<line x1="228.10" y1="466.40" x2="387.50" y2="466.40" stroke="#262626" stroke-width="1.4"/>
<line x1="225.90" y1="466.40" x2="228.80" y2="466.40" stroke="#262626" stroke-width="1.0"/>
<text x="222.60" y="469.20" font-size="8.5" text-anchor="end" fill="#1e1e1e" stroke="#1e1e1e" stroke-width="0.18" >0</text>
<line x1="225.90" y1="446.80" x2="228.80" y2="446.80" stroke="#262626" stroke-width="1.0"/>
<text x="222.60" y="449.60" font-size="8.5" text-anchor="end" fill="#1e1e1e" stroke="#1e1e1e" stroke-width="0.18" >20</text>
<line x1="225.90" y1="427.20" x2="228.80" y2="427.20" stroke="#262626" stroke-width="1.0"/>
<text x="222.60" y="430.00" font-size="8.5" text-anchor="end" fill="#1e1e1e" stroke="#1e1e1e" stroke-width="0.18" >40</text>
<line x1="225.90" y1="407.60" x2="228.80" y2="407.60" stroke="#262626" stroke-width="1.0"/>
<text x="222.60" y="410.40" font-size="8.5" text-anchor="end" fill="#1e1e1e" stroke="#1e1e1e" stroke-width="0.18" >60</text>
<line x1="225.90" y1="388.00" x2="228.80" y2="388.00" stroke="#262626" stroke-width="1.0"/>
<text x="222.60" y="390.80" font-size="8.5" text-anchor="end" fill="#1e1e1e" stroke="#1e1e1e" stroke-width="0.18" >80</text>
<line x1="225.90" y1="368.40" x2="228.80" y2="368.40" stroke="#262626" stroke-width="1.0"/>
<text x="222.60" y="371.20" font-size="8.5" text-anchor="end" fill="#1e1e1e" stroke="#1e1e1e" stroke-width="0.18" >100</text>
<line x1="307.50" y1="466.40" x2="307.50" y2="469.10" stroke="#262626" stroke-width="1.0"/>
<line x1="386.40" y1="466.40" x2="386.40" y2="469.10" stroke="#262626" stroke-width="1.0"/>
<text transform="translate(201.70,415.90) rotate(-90) scale(0.645,1)" font-size="10.5" text-anchor="middle" fill="#1e1e1e" stroke="#1e1e1e" stroke-width="0.18">Tested patients, %</text>
<rect x="237.65" y="418.63" width="9.90" height="47.52" fill="#f39200" stroke="#ae6900" stroke-width="0.5"/>
<text x="242.60" y="416.98" font-size="5.2" text-anchor="middle" fill="#3a3a3a" stroke="#3a3a3a" stroke-width="0.12" >49%</text>
<rect x="250.70" y="429.41" width="9.90" height="36.74" fill="#5a1f5e" stroke="#401643" stroke-width="0.5"/>
<text x="255.65" y="427.76" font-size="5.2" text-anchor="middle" fill="#3a3a3a" stroke="#3a3a3a" stroke-width="0.12" >38%</text>
<rect x="263.75" y="459.79" width="9.90" height="6.36" fill="#cc1035" stroke="#920b26" stroke-width="0.5"/>
<text x="268.70" y="458.14" font-size="5.2" text-anchor="middle" fill="#3a3a3a" stroke="#3a3a3a" stroke-width="0.12" >7%</text>
<rect x="276.80" y="465.67" width="9.90" height="0.48" fill="#2fa6dc" stroke="#21779e" stroke-width="0.5"/>
<text x="281.75" y="464.02" font-size="5.2" text-anchor="middle" fill="#3a3a3a" stroke="#3a3a3a" stroke-width="0.12" >1%</text>
<rect x="289.85" y="461.75" width="9.90" height="4.40" fill="#35a93c" stroke="#26792b" stroke-width="0.5"/>
<text x="294.80" y="460.10" font-size="5.2" text-anchor="middle" fill="#3a3a3a" stroke="#3a3a3a" stroke-width="0.12" >5%</text>
<rect x="316.35" y="418.63" width="9.90" height="47.52" fill="#f39200" stroke="#ae6900" stroke-width="0.5"/>
<text x="321.30" y="416.98" font-size="5.2" text-anchor="middle" fill="#3a3a3a" stroke="#3a3a3a" stroke-width="0.12" >49%</text>
<rect x="329.40" y="436.27" width="9.90" height="29.88" fill="#5a1f5e" stroke="#401643" stroke-width="0.5"/>
<text x="334.35" y="434.62" font-size="5.2" text-anchor="middle" fill="#3a3a3a" stroke="#3a3a3a" stroke-width="0.12" >31%</text>
<rect x="342.45" y="449.01" width="9.90" height="17.14" fill="#cc1035" stroke="#920b26" stroke-width="0.5"/>
<text x="347.40" y="447.36" font-size="5.2" text-anchor="middle" fill="#3a3a3a" stroke="#3a3a3a" stroke-width="0.12" >18%</text>
<rect x="368.55" y="463.71" width="9.90" height="2.44" fill="#35a93c" stroke="#26792b" stroke-width="0.5"/>
<text x="373.50" y="462.06" font-size="5.2" text-anchor="middle" fill="#3a3a3a" stroke="#3a3a3a" stroke-width="0.12" >3%</text>
<text transform="translate(268.60,480.30) scale(0.95,1)" font-size="8.4" text-anchor="middle" fill="#1e1e1e" stroke="#1e1e1e" stroke-width="0.18" >Unmutated</text>
<text transform="translate(268.60,494.90) scale(0.95,1)" font-size="8.4" text-anchor="middle" fill="#1e1e1e" stroke="#1e1e1e" stroke-width="0.18" >121</text>
<text transform="translate(353.00,480.30) scale(0.95,1)" font-size="8.4" text-anchor="middle" fill="#1e1e1e" stroke="#1e1e1e" stroke-width="0.18" >Mutated</text>
<text transform="translate(353.00,494.90) scale(0.95,1)" font-size="8.4" text-anchor="middle" fill="#1e1e1e" stroke="#1e1e1e" stroke-width="0.18" >39</text>
<text transform="translate(211.00,494.90) scale(0.95,1)" font-size="8.4" text-anchor="start" fill="#1e1e1e" stroke="#1e1e1e" stroke-width="0.18" >n =</text>
<text transform="translate(477.50,360.00) scale(1.03,1)" font-size="9.4" text-anchor="middle" fill="#1e1e1e" stroke="#1e1e1e" stroke-width="0.18" >Not tested</text>
<line x1="435.00" y1="365.40" x2="435.00" y2="467.10" stroke="#262626" stroke-width="1.4"/>
<line x1="434.30" y1="466.40" x2="519.00" y2="466.40" stroke="#262626" stroke-width="1.4"/>
<line x1="432.10" y1="466.40" x2="435.00" y2="466.40" stroke="#262626" stroke-width="1.0"/>
<text x="428.80" y="469.20" font-size="8.5" text-anchor="end" fill="#1e1e1e" stroke="#1e1e1e" stroke-width="0.18" >0</text>
<line x1="432.10" y1="446.80" x2="435.00" y2="446.80" stroke="#262626" stroke-width="1.0"/>
<text x="428.80" y="449.60" font-size="8.5" text-anchor="end" fill="#1e1e1e" stroke="#1e1e1e" stroke-width="0.18" >20</text>
<line x1="432.10" y1="427.20" x2="435.00" y2="427.20" stroke="#262626" stroke-width="1.0"/>
<text x="428.80" y="430.00" font-size="8.5" text-anchor="end" fill="#1e1e1e" stroke="#1e1e1e" stroke-width="0.18" >40</text>
<line x1="432.10" y1="407.60" x2="435.00" y2="407.60" stroke="#262626" stroke-width="1.0"/>
<text x="428.80" y="410.40" font-size="8.5" text-anchor="end" fill="#1e1e1e" stroke="#1e1e1e" stroke-width="0.18" >60</text>
<line x1="432.10" y1="388.00" x2="435.00" y2="388.00" stroke="#262626" stroke-width="1.0"/>
<text x="428.80" y="390.80" font-size="8.5" text-anchor="end" fill="#1e1e1e" stroke="#1e1e1e" stroke-width="0.18" >80</text>
<line x1="432.10" y1="368.40" x2="435.00" y2="368.40" stroke="#262626" stroke-width="1.0"/>
<text x="428.80" y="371.20" font-size="8.5" text-anchor="end" fill="#1e1e1e" stroke="#1e1e1e" stroke-width="0.18" >100</text>
<line x1="517.00" y1="466.40" x2="517.00" y2="469.10" stroke="#262626" stroke-width="1.0"/>
<text transform="translate(407.80,416.80) rotate(-90) scale(0.645,1)" font-size="10.5" text-anchor="middle" fill="#1e1e1e" stroke="#1e1e1e" stroke-width="0.18">Patients, %</text>
<rect x="443.85" y="423.53" width="9.90" height="42.62" fill="#f39200" stroke="#ae6900" stroke-width="0.5"/>
<text x="448.80" y="421.88" font-size="5.2" text-anchor="middle" fill="#3a3a3a" stroke="#3a3a3a" stroke-width="0.12" >44%</text>
<rect x="457.25" y="433.33" width="9.90" height="32.82" fill="#5a1f5e" stroke="#401643" stroke-width="0.5"/>
<text x="462.20" y="431.68" font-size="5.2" text-anchor="middle" fill="#3a3a3a" stroke="#3a3a3a" stroke-width="0.12" >34%</text>
<rect x="470.65" y="452.93" width="9.90" height="13.22" fill="#cc1035" stroke="#920b26" stroke-width="0.5"/>
<text x="475.60" y="451.28" font-size="5.2" text-anchor="middle" fill="#3a3a3a" stroke="#3a3a3a" stroke-width="0.12" >14%</text>
<rect x="484.05" y="464.69" width="9.90" height="1.46" fill="#2fa6dc" stroke="#21779e" stroke-width="0.5"/>
<text x="489.00" y="463.04" font-size="5.2" text-anchor="middle" fill="#3a3a3a" stroke="#3a3a3a" stroke-width="0.12" >2%</text>
<rect x="497.45" y="460.77" width="9.90" height="5.38" fill="#35a93c" stroke="#26792b" stroke-width="0.5"/>
<text x="502.40" y="459.12" font-size="5.2" text-anchor="middle" fill="#3a3a3a" stroke="#3a3a3a" stroke-width="0.12" >6%</text>
<text transform="translate(469.80,494.90) scale(0.95,1)" font-size="8.4" text-anchor="middle" fill="#1e1e1e" stroke="#1e1e1e" stroke-width="0.18" >1138</text>
<rect x="264.55" y="507.85" width="5.90" height="5.80" fill="#f39200" stroke="#ae6900" stroke-width="0.5"/>
<text transform="translate(277.00,513.40) scale(0.93,1)" font-size="7.9" text-anchor="start" fill="#1e1e1e" stroke="#1e1e1e" stroke-width="0.18" >Ibrutinib</text>
<rect x="313.55" y="507.85" width="5.90" height="5.80" fill="#5a1f5e" stroke="#401643" stroke-width="0.5"/>
<text transform="translate(326.50,513.40) scale(0.93,1)" font-size="7.9" text-anchor="start" fill="#1e1e1e" stroke="#1e1e1e" stroke-width="0.18" >CIT</text>
<rect x="348.25" y="507.85" width="5.90" height="5.80" fill="#cc1035" stroke="#920b26" stroke-width="0.5"/>
<text transform="translate(361.00,513.40) scale(0.93,1)" font-size="7.9" text-anchor="start" fill="#1e1e1e" stroke="#1e1e1e" stroke-width="0.18" >IT</text>
<rect x="376.75" y="507.85" width="5.90" height="5.80" fill="#2fa6dc" stroke="#21779e" stroke-width="0.5"/>
<text transform="translate(390.00,513.40) scale(0.93,1)" font-size="7.9" text-anchor="start" fill="#1e1e1e" stroke="#1e1e1e" stroke-width="0.18" >CT</text>
<rect x="409.85" y="507.85" width="5.90" height="5.80" fill="#35a93c" stroke="#26792b" stroke-width="0.5"/>
<text transform="translate(423.00,513.40) scale(0.93,1)" font-size="7.9" text-anchor="start" fill="#1e1e1e" stroke="#1e1e1e" stroke-width="0.18" >Other novel agents</text>
</svg>
</body></html>
